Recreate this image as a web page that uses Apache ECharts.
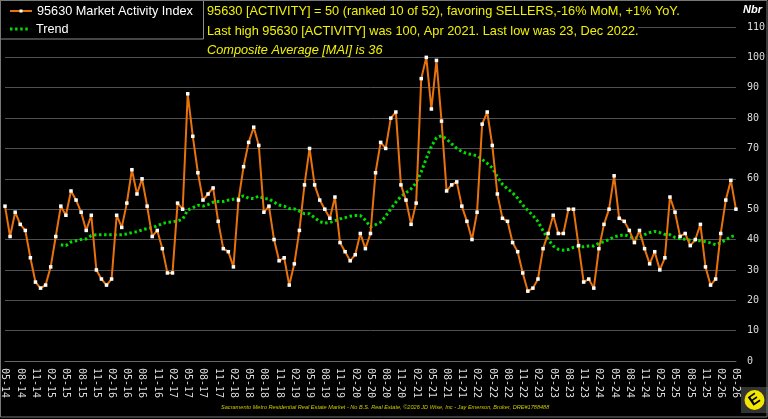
<!DOCTYPE html>
<html><head><meta charset="utf-8">
<script src="https://cdn.jsdelivr.net/npm/echarts@6/dist/echarts.min.js"></script>
<style>html,body{margin:0;padding:0;background:#000;}#c{width:768px;height:419px;}</style>
</head><body><div id="c"></div>
<script>
var categories = [
'05-14','06-14','07-14','08-14','09-14','10-14','11-14','12-14',
'01-15','02-15','03-15','04-15','05-15','06-15','07-15','08-15','09-15','10-15','11-15','12-15',
'01-16','02-16','03-16','04-16','05-16','06-16','07-16','08-16','09-16','10-16','11-16','12-16',
'01-17','02-17','03-17','04-17','05-17','06-17','07-17','08-17','09-17','10-17','11-17','12-17',
'01-18','02-18','03-18','04-18','05-18','06-18','07-18','08-18','09-18','10-18','11-18','12-18',
'01-19','02-19','03-19','04-19','05-19','06-19','07-19','08-19','09-19','10-19','11-19','12-19',
'01-20','02-20','03-20','04-20','05-20','06-20','07-20','08-20','09-20','10-20','11-20','12-20',
'01-21','02-21','03-21','04-21','05-21','06-21','07-21','08-21','09-21','10-21','11-21','12-21',
'01-22','02-22','03-22','04-22','05-22','06-22','07-22','08-22','09-22','10-22','11-22','12-22',
'01-23','02-23','03-23','04-23','05-23','06-23','07-23','08-23','09-23','10-23','11-23','12-23',
'01-24','02-24','03-24','04-24','05-24','06-24','07-24','08-24','09-24','10-24','11-24','12-24',
'01-25','02-25','03-25','04-25','05-25','06-25','07-25','08-25','09-25','10-25','11-25','12-25',
'01-26','02-26','03-26','04-26','05-26'];

var activityIndex = [
51,41,49,45,43,34,26,24,25,31,41,51,
48,56,53,49,43,48,30,27,25,27,48,44,
52,63,55,60,51,41,43,37,29,29,52,50,
88,74,62,53,55,57,46,37,36,31,53,64,
72,77,71,49,51,40,33,34,25,32,43,58,
70,58,53,50,47,54,39,36,33,35,42,37,
42,62,72,70,80,82,58,53,45,52,93,100,
83,99,79,56,58,59,51,46,40,49,78,82,
71,55,47,46,39,36,29,23,24,27,37,42,
48,42,42,50,50,38,26,27,24,37,45,50,
61,47,46,43,39,43,37,32,36,30,34,54,
49,41,42,38,40,45,31,25,27,42,53,59.5,
50];

var trend = [
null,null,null,null,null,null,null,null,null,null,null,
38.3,38.0,39.2,39.6,40.0,40.2,41.3,41.6,41.6,41.6,41.6,41.6,
41.6,41.8,42.3,42.6,43.2,43.6,43.9,44.5,45.3,45.7,45.8,46.1,
46.7,49.7,50.5,51.3,51.0,51.5,52.3,52.5,52.5,53.0,53.3,53.6,
54.4,53.6,53.5,54.3,53.5,53.4,52.3,51.4,51.0,50.2,50.1,49.4,
48.5,48.5,47.2,45.9,45.4,45.6,46.2,46.8,47.2,47.7,47.9,47.9,
46.4,44.2,44.9,45.7,47.7,50.1,52.3,54.2,55.4,56.7,58.7,62.3,
66.7,70.7,73.5,74.2,73.1,71.5,70.0,69.0,68.3,68.0,67.6,66.4,
65.1,63.6,60.6,58.2,56.7,55.4,53.6,51.4,49.6,47.9,45.9,42.9,
40.1,37.9,36.8,36.5,36.7,37.4,37.7,37.6,37.9,37.9,38.8,39.3,
40.0,40.9,41.3,41.6,41.0,40.4,40.6,41.6,42.3,42.7,42.3,41.7,
41.6,40.7,40.3,40.1,39.8,39.6,39.6,39.3,38.9,38.3,39.0,39.9,
40.9,41.4];

var seriesNames = ['95630 Market Activity Index', 'Trend'];
var infoLines = [
 '95630 [ACTIVITY] = 50 (ranked 10 of 52), favoring SELLERS,-16% MoM, +1% YoY.',
 'Last high 95630 [ACTIVITY] was 100, Apr 2021. Last low was 23, Dec 2022.',
 'Composite Average [MAI] is 36'];
var footer = 'Sacramento Metro Residential Real Estate Market - No B.S. Real Estate, \u00a92026 JD Wise, Inc - Jay Emerson, Broker, DRE#1788488';

var chart = echarts.init(document.getElementById('c'), null, {renderer:'canvas'});
var mono = 'DejaVu Sans Mono';
var sans = 'Liberation Sans, Arial, sans-serif';
var orange = '#e8720c', green = '#00dd00', yellow = '#f2f200';
chart.setOption({
  backgroundColor: '#000',
  animation: false,
  grid: {left: 2, right: 32, top: 27, bottom: 58, containLabel: false},
  xAxis: {
    type: 'category', data: categories, boundaryGap: false,
    axisLine: {show: true, lineStyle: {color: '#666', width: 1}},
    axisTick: {show: false},
    splitLine: {show: false},
    axisLabel: {interval: 2, rotate: -90, margin: 7, color: '#ddd', fontFamily: mono, fontSize: 10}
  },
  yAxis: {
    type: 'value', position: 'right', min: 0, max: 110, interval: 10,
    axisLine: {show: false}, axisTick: {show: false},
    splitLine: {show: true, lineStyle: {color: '#505050', width: 1}},
    axisLabel: {margin: 11, color: '#ddd', fontFamily: mono, fontSize: 10}
  },
  series: [
    {name: seriesNames[0], type: 'line', data: activityIndex, z: 3,
     lineStyle: {color: orange, width: 2},
     itemStyle: {color: '#fff', borderWidth: 0},
     color: orange,
     symbol: 'rect', symbolSize: 3.5, showSymbol: true, showAllSymbol: true},
    {name: seriesNames[1], type: 'line', data: trend, z: 2,
     color: green,
     lineStyle: {color: green, width: 3, type: [2.5, 2.6], cap: 'butt'},
     symbol: 'none', connectNulls: false}
  ],
  graphic: [
    {type: 'rect', z: 10, shape: {x: 0, y: 0, width: 638, height: 41}, style: {fill: '#000'}},
    {type: 'rect', z: 11, shape: {x: 0.5, y: 0.5, width: 203, height: 38.5}, style: {fill: '#000', stroke: '#8a8a8a', lineWidth: 1}},
    {type: 'line', z: 12, shape: {x1: 10, y1: 11, x2: 32, y2: 11}, style: {stroke: orange, lineWidth: 2}},
    {type: 'rect', z: 13, shape: {x: 19.5, y: 9.5, width: 3, height: 3}, style: {fill: '#fff'}},
    {type: 'text', z: 12, x: 37, y: 11, style: {text: seriesNames[0], fill: '#fff', font: '12.7px ' + sans, verticalAlign: 'middle'}},
    {type: 'line', z: 12, shape: {x1: 10, y1: 29, x2: 30, y2: 29}, style: {stroke: green, lineWidth: 3, lineDash: [2.5, 2.6]}},
    {type: 'text', z: 12, x: 36, y: 29, style: {text: seriesNames[1], fill: '#fff', font: '12.7px ' + sans, verticalAlign: 'middle'}},
    {type: 'rect', z: 100, shape: {x: 0.5, y: 0.5, width: 766.5, height: 416.5}, style: {fill: 'none', stroke: '#777', lineWidth: 1}},
    {type: 'text', z: 12, x: 207, y: 11, style: {text: infoLines[0], fill: yellow, font: '12.75px ' + sans, verticalAlign: 'middle'}},
    {type: 'text', z: 12, x: 207, y: 31, style: {text: infoLines[1], fill: yellow, font: '12.75px ' + sans, verticalAlign: 'middle'}},
    {type: 'text', z: 12, x: 207, y: 50, style: {text: infoLines[2], fill: yellow, font: 'italic 12.75px ' + sans, verticalAlign: 'middle'}},
    {type: 'text', z: 12, x: 743, y: 10, style: {text: 'Nbr', fill: '#fff', font: 'italic bold 11px ' + sans, verticalAlign: 'middle'}},
    {type: 'text', z: 12, x: 221, y: 407, style: {text: footer, fill: '#c8c800', font: 'italic 5.6px ' + sans, verticalAlign: 'middle'}},
    {type: 'rect', z: 12, shape: {x: 741, y: 387, width: 27, height: 26}, style: {fill: '#333'}},
    {type: 'circle', z: 13, shape: {cx: 754.5, cy: 400, r: 10}, style: {fill: '#f2e600'}},
    {type: 'text', z: 14, x: 754.5, y: 400, rotation: 0.6, style: {text: 'E', fill: '#000', font: 'bold 15px ' + sans, align: 'center', verticalAlign: 'middle'}}
  ]
});
</script></body></html>
